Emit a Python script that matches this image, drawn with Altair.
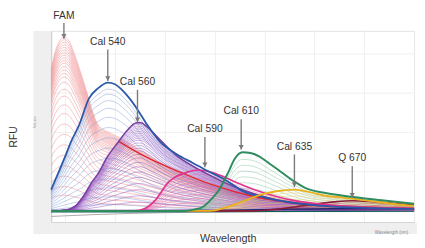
import altair as alt
import pandas as pd

# ---------------- data ----------------
fam_nm = [518, 520, 522, 524.5, 527, 530, 533.4, 536, 538.3, 541.6, 546, 550, 556, 561, 566,
          571, 576, 581, 586, 591, 596, 600, 610, 620, 630, 640, 650, 660, 680, 700]
fam_rfu = [1.80, 2.02, 2.15, 2.21, 2.16, 1.97, 1.71, 1.50, 1.30, 1.09, 1.01, 0.96, 0.88, 0.80, 0.72,
           0.64, 0.57, 0.50, 0.44, 0.39, 0.34, 0.31, 0.24, 0.19, 0.15, 0.12, 0.095, 0.075, 0.05, 0.035]
fam_scales = [1.0, 0.985, 0.97, 0.955, 0.94, 0.925, 0.91, 0.895, 0.88, 0.865, 0.85, 0.83, 0.81,
              0.79, 0.77, 0.74, 0.70, 0.66, 0.61, 0.56, 0.50, 0.44, 0.38, 0.32, 0.26, 0.20, 0.14, 0.09]

# thick red tail of the FAM band
red_nm = [552, 556, 566, 582, 599, 620, 637, 655, 680, 700]
red_rfu = [0.88, 0.82, 0.68, 0.50, 0.33, 0.18, 0.11, 0.07, 0.045, 0.03]

c540_nm = [518, 521, 525, 528, 532, 537, 541.6, 546.5, 550, 553, 557, 561, 566, 572.5, 581, 589,
           597, 605, 615, 625, 635, 645, 660, 680, 700]
c540_rfu = [0.27, 0.45, 0.69, 0.88, 1.09, 1.43, 1.56, 1.63, 1.61, 1.55, 1.44, 1.30, 1.10, 0.88, 0.72,
            0.61, 0.50, 0.40, 0.24, 0.17, 0.12, 0.085, 0.055, 0.035, 0.025]
c540_scales = [0.95, 0.91, 0.86, 0.80, 0.73, 0.65, 0.57, 0.49, 0.41, 0.33, 0.25, 0.18, 0.11, 0.05]

c560_nm = [518, 525, 530, 535, 538, 541.7, 546, 551.5, 556, 561, 563, 566, 572, 581, 589, 597, 605,
           615, 625, 635, 645, 660, 680, 700]
c560_rfu = [0.0, 0.01, 0.06, 0.22, 0.35, 0.48, 0.68, 0.87, 1.02, 1.12, 1.12, 1.07, 0.92, 0.70, 0.57,
            0.46, 0.36, 0.26, 0.18, 0.12, 0.085, 0.055, 0.035, 0.02]
c560_scales = [1.0, 0.98, 0.96, 0.94, 0.92, 0.90, 0.88, 0.86, 0.84, 0.82, 0.80, 0.77, 0.74, 0.71,
               0.68, 0.64, 0.60, 0.55, 0.50, 0.44, 0.38, 0.31, 0.24, 0.17, 0.10]

c590_nm = [518, 560, 565, 570, 577, 581, 586, 592, 597, 604, 610, 620, 630, 640, 650, 660, 680, 700]
c590_rfu = [0.0, 0.0, 0.03, 0.13, 0.37, 0.44, 0.49, 0.52, 0.50, 0.44, 0.37, 0.27, 0.19, 0.13, 0.095,
            0.07, 0.045, 0.03]
c590_scales = [0.9, 0.8, 0.7, 0.6, 0.5, 0.4, 0.3, 0.2]

c610_nm = [518, 585, 590, 594, 598, 602, 607, 610, 614, 618, 622.5, 627, 632, 639, 645.6, 655,
           668.6, 686, 700]
c610_rfu = [0.0, 0.0, 0.02, 0.05, 0.14, 0.26, 0.50, 0.66, 0.745, 0.735, 0.69, 0.61, 0.52, 0.39,
            0.29, 0.23, 0.18, 0.13, 0.09]
c610_scales = [0.88, 0.78, 0.68, 0.58, 0.48, 0.38, 0.28, 0.18]

c635_nm = [518, 598, 605, 612, 618, 625, 631, 640, 648, 656, 664, 680, 697, 700]
c635_rfu = [0.0, 0.0, 0.04, 0.10, 0.16, 0.22, 0.25, 0.27, 0.235, 0.19, 0.17, 0.12, 0.07, 0.065]
c635_scales = [0.85, 0.7, 0.55, 0.4, 0.25]

q670_nm = [518, 620, 630, 640, 650, 660, 669, 680, 690, 700]
q670_rfu = [0.0, 0.0, 0.02, 0.05, 0.085, 0.115, 0.13, 0.115, 0.095, 0.075]
q670_scales = [0.8, 0.6, 0.4]

base_nm = [518, 560, 600, 630, 660, 700]
navy_rfu = [0.0, 0.0, 0.005, 0.02, 0.03, 0.03]
teal_rfu = [-0.012, -0.012, -0.01, -0.008, -0.006, -0.005]
dpurple_rfu = [0.008, 0.008, 0.01, 0.012, 0.014, 0.015]
gray_rfu = [-0.07, -0.03, -0.015, -0.01, -0.006, -0.005]

ann_label = ["FAM", "Cal 540", "Cal 560", "Cal 590", "Cal 610", "Cal 635", "Q 670"]
ann_nm = [524.4, 546.4, 561.3, 595.1, 613.3, 640.0, 669.0]
ann_text = [2.475, 2.151, 1.640, 1.041, 1.266, 0.816, 0.667]
ann_start = [2.388, 2.05, 1.54, 0.94, 1.165, 0.717, 0.567]
ann_tip = [2.188, 1.652, 1.128, 0.555, 0.779, 0.305, 0.168]

x_ticks = [525, 550, 575, 600, 625, 650, 675, 700]
y_ticks = [0, 0.25, 0.5, 0.75, 1, 1.25, 1.5, 1.75, 2, 2.25]

# ---------------- build tables ----------------
dyes = [
    ("FAM", fam_nm, fam_rfu, fam_scales),
    ("Cal 540", c540_nm, c540_rfu, c540_scales),
    ("Cal 560", c560_nm, c560_rfu, c560_scales),
    ("Cal 590", c590_nm, c590_rfu, c590_scales),
    ("Cal 610", c610_nm, c610_rfu, c610_scales),
    ("Cal 635", c635_nm, c635_rfu, c635_scales),
    ("Q 670", q670_nm, q670_rfu, q670_scales),
]
thin_rows = []
for name, nms, vals, scales in dyes:
    for k, s in enumerate(scales):
        for x, v in zip(nms, vals):
            thin_rows.append({"dye": name, "series": f"{name}-{k}", "nm": x, "rfu": v * s})
thin_df = pd.DataFrame(thin_rows)

thick_series = [
    ("gray", base_nm, gray_rfu),
    ("teal", base_nm, teal_rfu),
    ("dpurple", base_nm, dpurple_rfu),
    ("navy", base_nm, navy_rfu),
    ("FAMthick", red_nm, red_rfu),
    ("Cal 560", c560_nm, c560_rfu),
    ("Q 670", q670_nm, q670_rfu),
    ("Cal 590", c590_nm, c590_rfu),
    ("Cal 540", c540_nm, c540_rfu),
    ("Cal 635", c635_nm, c635_rfu),
    ("Cal 610", c610_nm, c610_rfu),
]
thick_rows = []
for order, (name, nms, vals) in enumerate(thick_series):
    for x, v in zip(nms, vals):
        thick_rows.append({"tdye": name, "ord": order, "nm": x, "rfu": v})
thick_df = pd.DataFrame(thick_rows)

ann_df = pd.DataFrame({"label": ann_label, "nm": ann_nm, "ty": ann_text,
                       "y1": ann_start, "y2": ann_tip})

# ---------------- scales ----------------
xs = alt.Scale(domain=[518, 700], nice=False, zero=False)
ys = alt.Scale(domain=[-0.143, 2.288], nice=False, zero=False)

thin_dom = ["FAM", "Cal 540", "Cal 560", "Cal 590", "Cal 610", "Cal 635", "Q 670"]
thin_rng = ["#ef8a8c", "#82a0da", "#9459c0", "#e56aab", "#86c3a2", "#f1cb62", "#a8475f"]

thick_dom = ["gray", "teal", "dpurple", "navy", "FAMthick", "Cal 560", "Q 670", "Cal 590",
             "Cal 540", "Cal 635", "Cal 610"]
thick_rng = ["#a9a9a9", "#11605a", "#5b2a86", "#1b2a6b", "#e3262f", "#7a3d9f", "#8b1c36",
             "#e0338b", "#2b58a8", "#e9b21e", "#2f8c5f"]
thick_w = [1.0, 2.0, 2.0, 3.0, 2.2, 1.6, 2.0, 2.0, 3.0, 2.5, 2.0]

# ---------------- layers ----------------
frame_left = alt.Chart(pd.DataFrame({"a": [0]})).mark_rect(color="#efefef").encode(
    x=alt.value(-18), x2=alt.value(0), y=alt.value(0), y2=alt.value(207))
frame_bottom = alt.Chart(pd.DataFrame({"a": [0]})).mark_rect(color="#efefef").encode(
    x=alt.value(0), x2=alt.value(373), y=alt.value(195.5), y2=alt.value(207))

thin = alt.Chart(thin_df).mark_line(interpolate="monotone", strokeWidth=0.75, opacity=0.65).encode(
    x=alt.X("nm:Q", scale=xs,
            axis=alt.Axis(values=x_ticks, title="Wavelength", titleX=180, titleY=16.5,
                          titleBaseline="middle", titleAlign="center", format="d")),
    y=alt.Y("rfu:Q", scale=ys,
            axis=alt.Axis(values=y_ticks, title="RFU", titleX=-38.5, titleY=107.5,
                          titleAngle=-90, titleAlign="center", titleBaseline="middle",
                          titleFontSize=10.5, format=".3~g")),
    color=alt.Color("dye:N", scale=alt.Scale(domain=thin_dom, range=thin_rng), legend=None),
    detail="series:N",
)

thick = alt.Chart(thick_df).mark_line(interpolate="monotone").encode(
    x=alt.X("nm:Q", scale=xs),
    y=alt.Y("rfu:Q", scale=ys),
    stroke=alt.Stroke("tdye:N", scale=alt.Scale(domain=thick_dom, range=thick_rng), legend=None),
    strokeWidth=alt.StrokeWidth("tdye:N", scale=alt.Scale(domain=thick_dom, range=thick_w),
                                legend=None),
    order=alt.Order("ord:Q"),
    detail="tdye:N",
)

arrows = alt.Chart(ann_df).mark_rule(color="#7a7a7a", strokeWidth=1.4).encode(
    x=alt.X("nm:Q", scale=xs), y=alt.Y("y1:Q", scale=ys), y2="y2:Q")
heads = alt.Chart(ann_df).mark_point(shape="triangle-down", filled=True, size=28,
                                     color="#7a7a7a", opacity=1, yOffset=-2.5).encode(
    x=alt.X("nm:Q", scale=xs), y=alt.Y("y2:Q", scale=ys))
labels = alt.Chart(ann_df).mark_text(font="Liberation Sans", fontSize=10.5, color="#333333",
                                     baseline="middle", align="center").encode(
    x=alt.X("nm:Q", scale=xs), y=alt.Y("ty:Q", scale=ys), text="label:N")

values_lbl = alt.Chart(pd.DataFrame({"t": ["Values"]})).mark_text(
    fontSize=4, color="#999999", angle=270, font="Liberation Sans").encode(
    x=alt.value(-16), y=alt.value(93), text="t:N")
wl_lbl = alt.Chart(pd.DataFrame({"t": ["Wavelength (nm)"]})).mark_text(
    fontSize=4.5, color="#888888", font="Liberation Sans").encode(
    x=alt.value(347), y=alt.value(206.5), text="t:N")

chart = alt.layer(frame_left, frame_bottom, thin, thick, arrows, heads, labels,
                  values_lbl, wl_lbl).resolve_scale(
    color="independent", stroke="independent", strokeWidth="independent"
).properties(
    width=370, height=195,
    autosize=alt.AutoSizeParams(type="none"),
    padding={"left": 44, "top": 21, "right": 3, "bottom": 24},
).configure_view(stroke="#e2e2e2").configure_axis(
    grid=True, gridColor="#ececec", gridWidth=0.8,
    domainColor="#c8c8c8", tickColor="#c8c8c8", tickSize=2,
    labelFontSize=4.5, labelColor="#888888", labelFont="Liberation Sans", labelPadding=2,
    titleFont="Liberation Sans", titleFontSize=11, titleFontWeight="normal", titleColor="#333333",
)

chart.save("out.html", embed_options={"renderer": "svg", "actions": False})
